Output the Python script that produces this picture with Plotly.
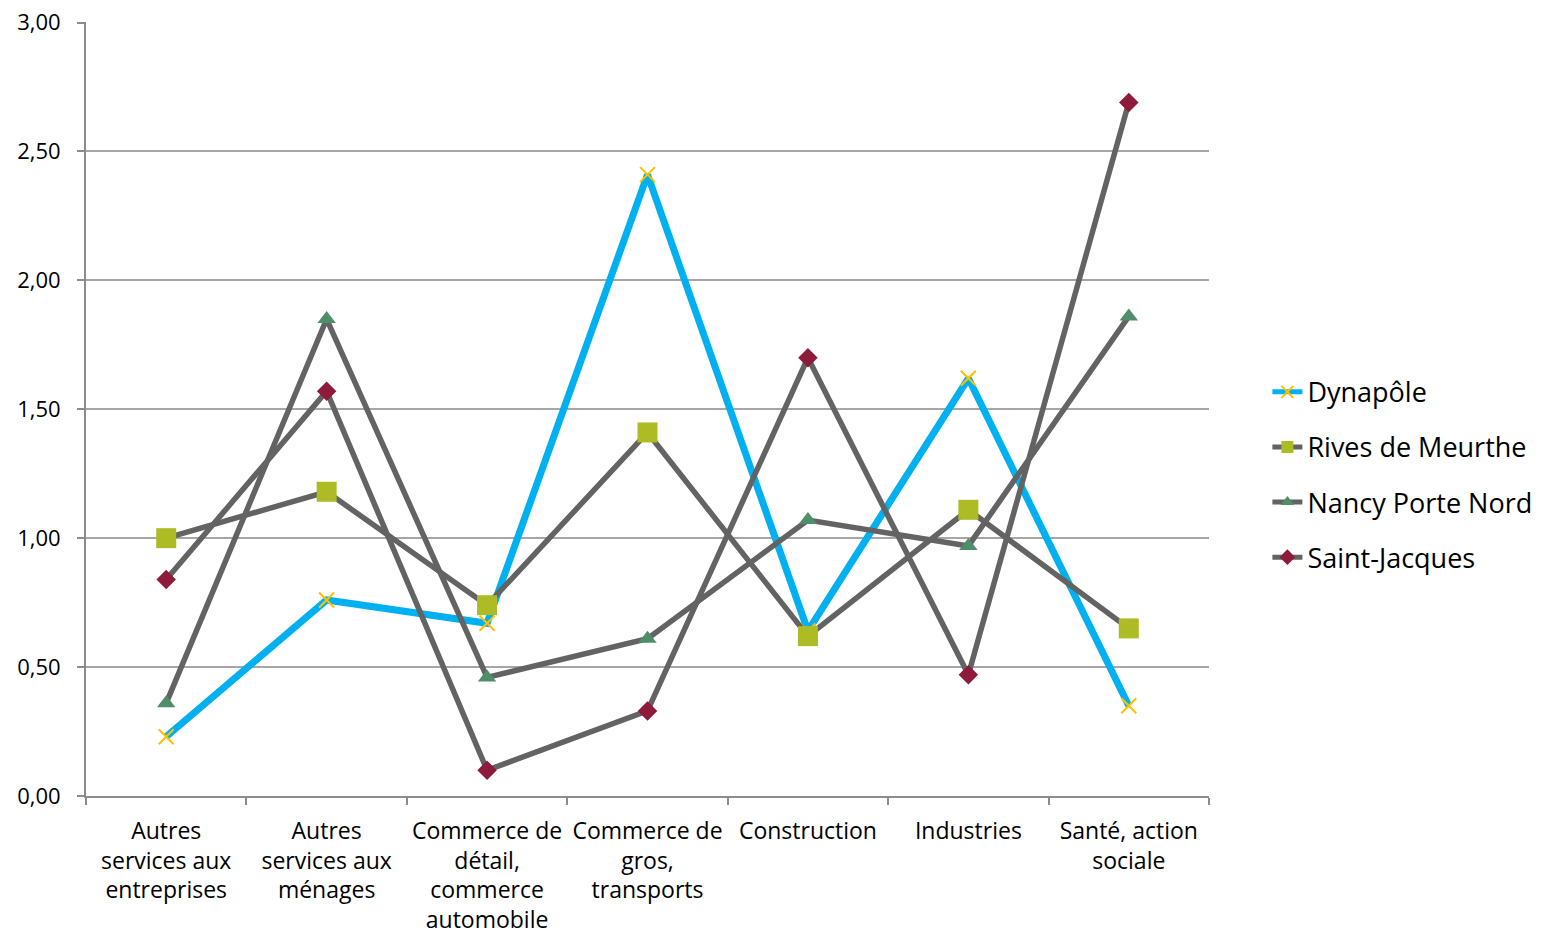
import plotly.graph_objects as go

categories = [
    "Autres<br>services aux<br>entreprises",
    "Autres<br>services aux<br>ménages",
    "Commerce de<br>détail,<br>commerce<br>automobile",
    "Commerce de<br>gros,<br>transports",
    "Construction",
    "Industries",
    "Santé, action<br>sociale",
]
dynapole = [0.23, 0.76, 0.67, 2.41, 0.64, 1.62, 0.35]
rives = [1.00, 1.18, 0.74, 1.41, 0.62, 1.11, 0.65]
nancy = [0.36, 1.85, 0.46, 0.61, 1.07, 0.97, 1.86]
saint_jacques = [0.84, 1.57, 0.10, 0.33, 1.70, 0.47, 2.69]
y_ticks = [0, 0.5, 1.0, 1.5, 2.0, 2.5, 3.0]

fig = go.Figure()
fig.add_trace(go.Scatter(
    x=categories, y=dynapole, name="Dynapôle", mode="lines+markers", legendgroup="a",
    line=dict(color="#00B0F0", width=7),
    marker=dict(symbol="x-thin-open", size=15, line=dict(color="#FFC000", width=2), color="#FFC000"),
))
fig.add_trace(go.Scatter(
    x=categories, y=rives, name="Rives de Meurthe", mode="lines+markers", legendgroup="b",
    line=dict(color="#636363", width=5.5),
    marker=dict(symbol="square", size=20, color="#ADBC24"),
))
fig.add_trace(go.Scatter(
    x=categories, y=nancy, name="Nancy Porte Nord", mode="lines+markers", legendgroup="c",
    line=dict(color="#636363", width=5.5),
    marker=dict(symbol="triangle-up", size=16, color="#4E8F6A"),
))
fig.add_trace(go.Scatter(
    x=categories, y=saint_jacques, name="Saint-Jacques", mode="lines+markers", legendgroup="d",
    line=dict(color="#636363", width=5.5),
    marker=dict(symbol="diamond", size=15, color="#8E1A3C"),
))

fig.update_layout(
    width=1541, height=939,
    paper_bgcolor="white", plot_bgcolor="white",
    margin=dict(l=86, r=332, t=22, b=143, autoexpand=False),
    separators=", ",
    font=dict(family="Open Sans", size=22, color="#000000"),
    showlegend=True,
    legend=dict(
        x=1.052, xanchor="left", y=0.415, yanchor="middle",
        font=dict(size=27, color="#000000"),
        tracegroupgap=17, itemsizing="constant",
    ),
    xaxis=dict(
        type="category", range=[-0.5, 6.5], automargin=False,
        showline=True, linecolor="#8C8C8C", linewidth=2,
        ticks="outside", tickson="boundaries", ticklen=7, tickcolor="#8C8C8C", tickwidth=2,
        showgrid=False, tickfont=dict(size=23), tickangle=0, ticklabelstandoff=13,
        ticklabeloverflow="allow",
    ),
    yaxis=dict(
        range=[0, 3.002], tickvals=y_ticks, tickformat=".2f", automargin=False,
        showline=True, linecolor="#8C8C8C", linewidth=2,
        ticks="outside", ticklen=7, tickcolor="#8C8C8C", tickwidth=2,
        showgrid=True, gridcolor="#A6A6A6", gridwidth=2,
        zeroline=False, tickfont=dict(size=22), ticklabelstandoff=12,
        ticklabeloverflow="allow",
    ),
)

fig.write_html(
    "out.html",
    config={"displayModeBar": False},
    post_script="document.body.style.margin='0';document.body.style.overflow='hidden';",
)
